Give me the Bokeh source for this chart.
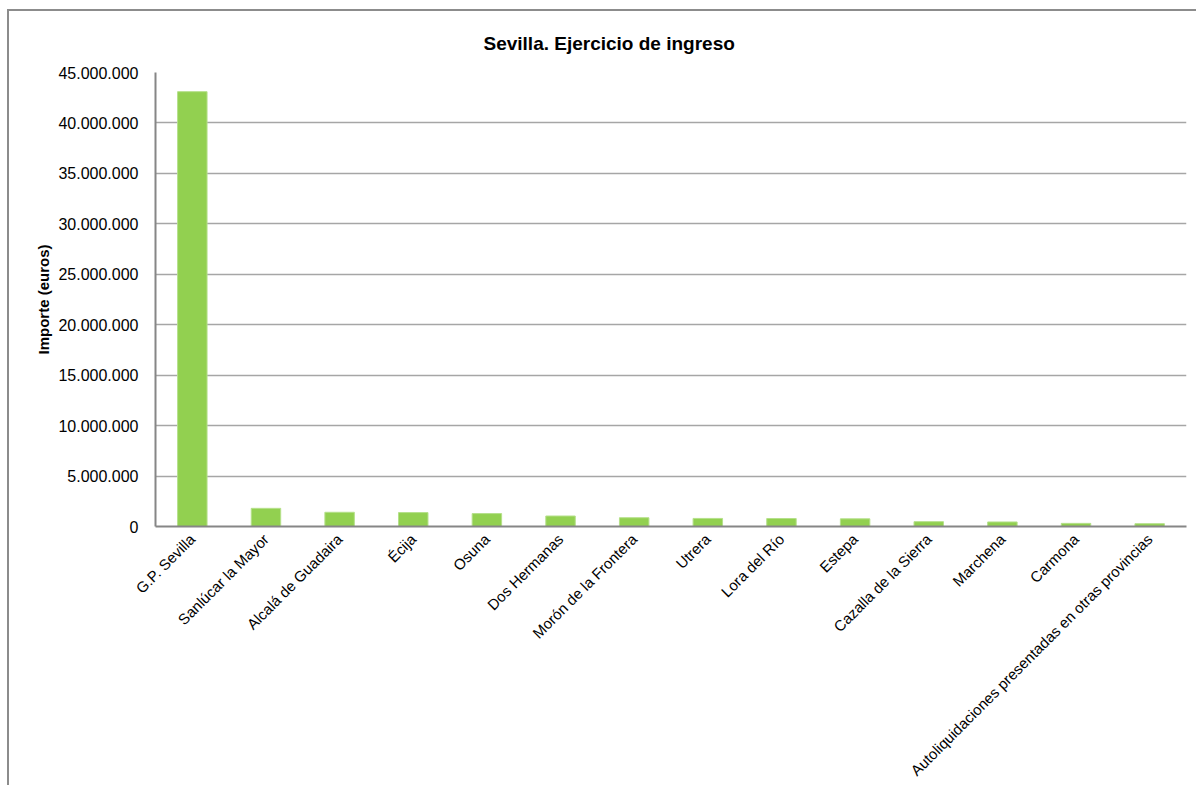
import math
from bokeh.plotting import figure
from bokeh.models import FactorRange, Range1d, FixedTicker, CustomJSTickFormatter, Title, ColumnDataSource
from bokeh.embed import file_html
from bokeh.resources import INLINE

categories = [
    "G.P. Sevilla", "Sanlúcar la Mayor", "Alcalá de Guadaira", "Écija", "Osuna",
    "Dos Hermanas", "Morón de la Frontera", "Utrera", "Lora del Río", "Estepa",
    "Cazalla de la Sierra", "Marchena", "Carmona",
    "Autoliquidaciones presentadas en otras provincias",
]
values = [
    43100000, 1800000, 1410000, 1380000, 1280000,
    1040000, 870000, 800000, 790000, 760000,
    480000, 450000, 310000, 280000,
]
y_ticks = [0, 5000000, 10000000, 15000000, 20000000, 25000000, 30000000, 35000000, 40000000, 45000000]

FONT = "Liberation Sans"

src = ColumnDataSource(dict(cat=categories, val=values))

p = figure(
    x_range=FactorRange(factors=categories),
    y_range=Range1d(0, 45000000),
    width=1189, height=776,
    output_backend="svg", toolbar_location=None,
    min_border_left=146, min_border_right=12, min_border_top=61, min_border_bottom=261,
)
p.styles = {"border-left": "2px solid #8c8c8c", "border-top": "2px solid #8c8c8c",
            "margin-left": "7px", "margin-top": "9px"}

p.vbar(x="cat", top="val", width=0.4, source=src, fill_color="#92d050", line_color="#b5e08a", line_width=1)

p.add_layout(Title(text="Sevilla. Ejercicio de ingreso", align="left", offset=328,
                   text_font_size="19px", text_font=FONT, text_font_style="bold",
                   text_color="#000000", standoff=37), "above")

p.outline_line_color = None
p.background_fill_color = "white"
p.border_fill_color = "white"

p.xgrid.grid_line_color = None
p.ygrid.grid_line_color = "#a6a6a6"
p.ygrid.grid_line_width = 1.5

p.yaxis.ticker = FixedTicker(ticks=y_ticks)
p.yaxis.formatter = CustomJSTickFormatter(code="""
return Math.round(tick).toString().replace(/\\B(?=(\\d{3})+(?!\\d))/g, ".");
""")
p.yaxis.axis_label = "Importe (euros)"
p.yaxis.axis_label_text_font = FONT
p.yaxis.axis_label_text_font_style = "bold"
p.yaxis.axis_label_text_font_size = "15px"
p.yaxis.axis_label_text_color = "#000000"
p.yaxis.axis_label_standoff = 3
p.yaxis.major_label_text_font = FONT
p.yaxis.major_label_text_font_size = "16px"
p.yaxis.major_label_text_color = "#000000"
p.yaxis.major_label_standoff = 17
p.yaxis.major_tick_out = 0
p.yaxis.major_tick_in = 0
p.yaxis.minor_tick_out = 0
p.yaxis.minor_tick_in = 0
p.yaxis.axis_line_color = "#868686"
p.yaxis.axis_line_width = 2

p.xaxis.major_label_orientation = math.pi / 4
p.xaxis.major_label_text_font = FONT
p.xaxis.major_label_text_font_size = "15px"
p.xaxis.major_label_text_color = "#000000"
p.xaxis.major_label_standoff = 10
p.xaxis.major_tick_out = 0
p.xaxis.major_tick_in = 0
p.xaxis.axis_line_color = "#868686"
p.xaxis.axis_line_width = 2

open("out.html", "w").write(file_html(p, INLINE))
